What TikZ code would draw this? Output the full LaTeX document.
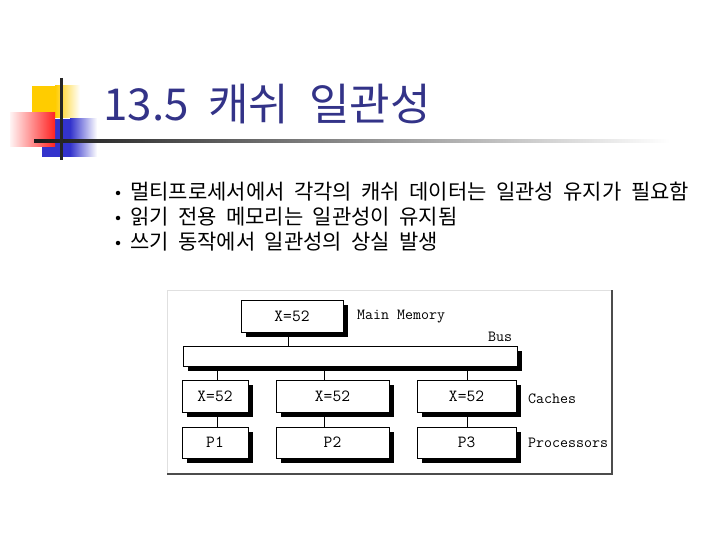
\documentclass[tikz,border=0pt]{standalone}
\usepackage{fontspec}
\newfontfamily\kr[WordSpace=2]{Noto Sans CJK KR}
\usetikzlibrary{shadows}
\definecolor{ttl}{HTML}{333388}
\definecolor{ylw}{HTML}{FFCC00}
\definecolor{blu}{HTML}{3333CC}
\definecolor{rdd}{HTML}{FF2222}
\tikzset{
  dbox/.style={draw=black, line width=0.9pt, fill=white, inner sep=0pt,
    general shadow={fill=black, shadow xshift=5pt, shadow yshift=-5pt},
    font=\fontsize{17}{20}\ttfamily},
  lbl/.style={anchor=west, inner sep=0pt, font=\fontsize{15.5}{18}\ttfamily},
  btxt/.style={anchor=base west, inner sep=0pt, font=\kr\fontsize{21}{25}\selectfont},
  bdot/.style={circle, fill=black, inner sep=0pt, minimum size=4.5pt},
  conn/.style={draw=black, line width=0.8pt}
}
\begin{document}
\begin{tikzpicture}[x=1pt,y=-1pt]
\useasboundingbox (0,0) rectangle (720,540);
% logo
\fill[ylw] (32,86) rectangle (55,118);
\shade[left color=ylw, right color=white] (55,86) rectangle (80,118);
\fill[blu] (42,119) rectangle (70,157);
\shade[left color=blu, right color=white] (70,119) rectangle (97,157);
\shade[left color=rdd!5, right color=rdd] (10,113) rectangle (55,147);
\shade[left color=black!90, right color=white] (34,139.5) rectangle (670,142.5);
\draw[line width=3pt, black!85] (61,78) -- (61,160);
% title
\node[anchor=base west, inner sep=0pt, text=ttl, font=\kr\fontsize{44}{50}\selectfont] (title) at (103,121) {13.5 캐쉬 일관성};
% bullets
\node[bdot] (b1) at (118,193) {};
\node[bdot] (b2) at (118,218) {};
\node[bdot] (b3) at (118,243) {};
\node[btxt] (t1) at (130,199.5) {멀티프로세서에서 각각의 캐쉬 데이터는 일관성 유지가 필요함};
\node[btxt] (t2) at (130,224.5) {읽기 전용 메모리는 일관성이 유지됨};
\node[btxt] (t3) at (130,249.5) {쓰기 동작에서 일관성의 상실 발생};
% frame
\fill[white] (167,290) rectangle (612,474);
\draw[black!12, line width=1pt] (167,474) -- (167,290) -- (612,290);
\draw[black!70, line width=1.6pt] (612,290) -- (612,474) -- (167,474);
% boxes
\node[dbox, minimum width=102pt, minimum height=32pt] (mm) at (292,316) {X=52};
\node[dbox, minimum width=334pt, minimum height=20pt] (bus) at (350,356) {};
\node[dbox, minimum width=66pt, minimum height=32pt] (c1) at (215,396) {X=52};
\node[dbox, minimum width=113pt, minimum height=32pt] (c2) at (332.5,396) {X=52};
\node[dbox, minimum width=99pt, minimum height=32pt] (c3) at (466.5,396) {X=52};
\node[dbox, minimum width=66pt, minimum height=31pt] (p1) at (215,442.5) {P1};
\node[dbox, minimum width=113pt, minimum height=31pt] (p2) at (332.5,442.5) {P2};
\node[dbox, minimum width=99pt, minimum height=31pt] (p3) at (466.5,442.5) {P3};
% connectors
\draw[conn] ([xshift=-4pt]mm.south) -- ([xshift=-4pt]mm.south |- bus.north);
\draw[conn] ([xshift=2pt]c1.north |- bus.south) -- ([xshift=2pt]c1.north);
\draw[conn] ([xshift=-8.5pt]c2.north |- bus.south) -- ([xshift=-8.5pt]c2.north);
\draw[conn] ([xshift=0.5pt]c3.north |- bus.south) -- ([xshift=0.5pt]c3.north);
\draw[conn] ([xshift=2pt]c1.south) -- ([xshift=2pt]p1.north);
\draw[conn] ([xshift=-8.5pt]c2.south) -- ([xshift=-8.5pt]p2.north);
\draw[conn] ([xshift=0.5pt]c3.south) -- ([xshift=0.5pt]p3.north);
% labels
\node[lbl] (lmm) at (357,317) {Main Memory};
\node[lbl] (lbus) at (488,337) {Bus};
\node[lbl] (lc) at (528,399) {Caches};
\node[lbl] (lp) at (528,443) {Processors};
\end{tikzpicture}
\end{document}
